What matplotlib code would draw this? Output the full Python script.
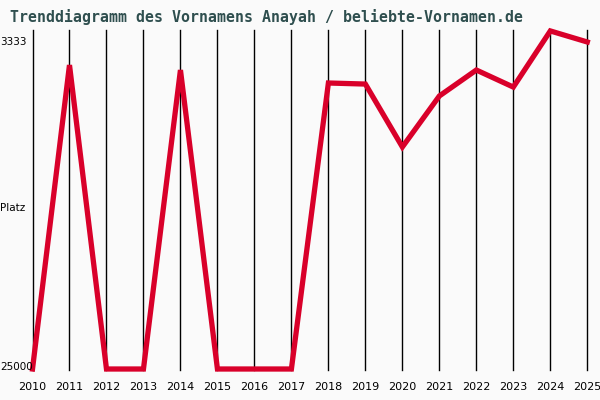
import matplotlib
matplotlib.use("Agg")
import matplotlib.pyplot as plt

# Data
years = list(range(2010, 2026))
ranks = [25000, 4860, 25000, 25000, 5190, 25000, 25000, 25000,
         6050, 6120, 10290, 6910, 5190, 6320, 2600, 3333]
y_labels = ["3333", "Platz", "25000"]

title = "Trenddiagramm des Vornamens Anayah / beliebte-Vornamen.de"
bg = "#fafafa"

fig = plt.figure(figsize=(6, 4), dpi=100, facecolor=bg)
ax = fig.add_axes([32.5 / 600, 30 / 400, (587.3 - 32.5) / 600, 340 / 400])
ax.set_facecolor(bg)
for s in ax.spines.values():
    s.set_visible(False)

ax.set_xlim(years[0], years[-1])
ax.set_ylim(25066, 2538)

for yr in years:
    ax.axvline(yr, color="black", lw=1, zorder=1, clip_on=False)

ax.plot(years, ranks, color="#d9002a", lw=3.8, solid_joinstyle="miter", zorder=3, clip_on=False)

ax.set_xticks(years)
ax.set_xticklabels([str(y) for y in years], fontsize=8, family="DejaVu Sans")
ax.tick_params(axis="x", length=0, pad=9)
ax.set_yticks([])

fig.text(0, 1 - 42 / 400, y_labels[0], fontsize=7.5, ha="left", va="center")
fig.text(0, 1 - 208 / 400, y_labels[1], fontsize=7.5, ha="left", va="center")
fig.text(0, 1 - 367 / 400, y_labels[2], fontsize=7.5, ha="left", va="center")

fig.text(10 / 600, 1 - 17 / 400, title, fontsize=10.75, family="DejaVu Sans Mono",
         weight="bold", color="#2f4f4f", ha="left", va="center")

fig.savefig("out.png", dpi=100, facecolor=bg)
